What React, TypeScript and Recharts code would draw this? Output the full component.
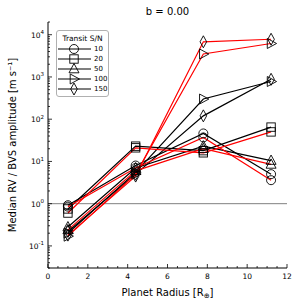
import React from 'react';
import { LineChart, Line, XAxis, YAxis, ReferenceLine, Legend } from 'recharts';

// planet radii (x positions)
const radius = [1.0, 4.4, 7.8, 11.2];
const snLabels = ['10', '20', '50', '100', '150'];
const markerKinds = ['circle', 'square', 'triangle', 'right', 'diamond'];

// black curves
const black10 = [0.92, 8, 46, 5.0];
const black20 = [0.75, 23, 18, 65];
const black50 = [0.28, 7, 23, 10.5];
const black100 = [0.2, 5.5, 300, 780];
const black150 = [0.22, 5, 120, 880];
// red curves
const red10 = [0.85, 7, 37, 3.6];
const red20 = [0.6, 21, 16, 50];
const red50 = [0.24, 6, 20, 8.5];
const red100 = [0.17, 5, 3500, 6200];
const red150 = [0.18, 4.5, 6800, 7800];

const blackSeries = [black10, black20, black50, black100, black150];
const redSeries = [red10, red20, red50, red100, red150];

const xTicks = [0, 2, 4, 6, 8, 10, 12];
const xMinor = [0.5, 1, 1.5, 2.5, 3, 3.5, 4.5, 5, 5.5, 6.5, 7, 7.5, 8.5, 9, 9.5, 10.5, 11, 11.5];
const yMajor = [0.1, 1, 10, 100, 1000, 10000];

const yAllTicks: number[] = [];
[0.01, 0.1, 1, 10, 100, 1000, 10000].forEach((d) => {
  for (let k = 1; k <= 9; k++) {
    const v = d * k;
    if (v >= 0.03 && v <= 20000) yAllTicks.push(v);
  }
});
const xAllTicks = [...xTicks, ...xMinor].sort((a, b) => a - b);

const rows = radius.map((r, i) => {
  const row: Record<string, number> = { r };
  snLabels.forEach((s, j) => {
    row['k' + s] = blackSeries[j][i];
    row['r' + s] = redSeries[j][i];
  });
  return row;
});

const FONT = 'DejaVu Sans, sans-serif';

const Marker = ({ kind, cx, cy }: { kind: string; cx: number; cy: number }) => {
  const p = { fill: 'none', stroke: '#000', strokeWidth: 0.9 };
  if (kind === 'circle') return <circle cx={cx} cy={cy} r={4.5} {...p} />;
  if (kind === 'square') return <rect x={cx - 4.2} y={cy - 4.2} width={8.4} height={8.4} {...p} />;
  if (kind === 'triangle')
    return <polygon points={`${cx},${cy - 5.5} ${cx - 5},${cy + 3.8} ${cx + 5},${cy + 3.8}`} {...p} />;
  if (kind === 'right')
    return <polygon points={`${cx + 5.5},${cy} ${cx - 3.8},${cy - 5} ${cx - 3.8},${cy + 5}`} {...p} />;
  return <polygon points={`${cx},${cy - 6} ${cx + 3.3},${cy} ${cx},${cy + 6} ${cx - 3.3},${cy}`} {...p} />;
};

const makeDot = (kind: string) => (props: any) => {
  const { cx, cy, index } = props;
  if (cx == null || cy == null) return <g key={index} />;
  return <Marker key={index} kind={kind} cx={cx} cy={cy} />;
};

const isMajorY = (v: number) => yMajor.some((m) => Math.abs(m - v) / m < 1e-6);

const LeftTick = (props: any) => {
  const { x, y, payload } = props;
  const v = payload.value;
  const major = isMajorY(v);
  const exp = Math.round(Math.log10(v));
  return (
    <g>
      <line x1={x} x2={x + (major ? 4 : 2)} y1={y} y2={y} stroke="#000" strokeWidth={0.8} />
      {major && (
        <text x={x - 4} y={y + 3} textAnchor="end" fontSize={7.5} fontFamily={FONT} fill="#000">
          10
          <tspan dy={-3.5} fontSize={5.5}>{exp}</tspan>
        </text>
      )}
    </g>
  );
};

const RightTick = (props: any) => {
  const { x, y, payload } = props;
  const major = isMajorY(payload.value);
  return <line x1={x} x2={x - (major ? 4 : 2)} y1={y} y2={y} stroke="#000" strokeWidth={0.8} />;
};

const BottomTick = (props: any) => {
  const { x, y, payload } = props;
  const major = xTicks.includes(payload.value);
  return (
    <g>
      <line x1={x} x2={x} y1={y} y2={y - (major ? 4 : 2)} stroke="#000" strokeWidth={0.8} />
      {major && (
        <text x={x} y={y + 11} textAnchor="middle" fontSize={7.5} fontFamily={FONT} fill="#000">
          {payload.value}
        </text>
      )}
    </g>
  );
};

const TopTick = (props: any) => {
  const { x, y, payload } = props;
  const major = xTicks.includes(payload.value);
  return <line x1={x} x2={x} y1={y} y2={y + (major ? 4 : 2)} stroke="#000" strokeWidth={0.8} />;
};

const XLabel = (props: any) => {
  const vb = props.viewBox || {};
  return (
    <text
      x={vb.x + vb.width / 2}
      y={vb.y + vb.height - 12}
      textAnchor="middle"
      fontSize={10}
      fontFamily={FONT}
      fill="#000"
    >
      Planet Radius [R
      <tspan fontSize={7} dy={2}>{'\u2295'}</tspan>
      <tspan dy={-2}>]</tspan>
    </text>
  );
};

const LegendBox = () => (
  <div
    style={{
      border: '1px solid #b0b0b0',
      borderRadius: 3,
      background: '#fff',
      fontFamily: FONT,
      fontSize: 7,
      color: '#000',
      padding: '3px 0 2px 0',
      width: 53,
      boxSizing: 'border-box',
    }}
  >
    <div style={{ textAlign: 'center', lineHeight: '9px', marginBottom: 1, fontSize: 7.5 }}>Transit S/N</div>
    {snLabels.map((s, j) => (
      <div key={s} style={{ display: 'flex', alignItems: 'center', height: 10 }}>
        <svg width={35} height={10} style={{ display: 'block', overflow: 'visible' }}>
          <line x1={1} x2={34} y1={5} y2={5} stroke="#000" strokeWidth={1.1} />
          <Marker kind={markerKinds[j]} cx={17} cy={5} />
        </svg>
        <span style={{ marginLeft: 2 }}>{s}</span>
      </div>
    ))}
  </div>
);

export default function App() {
  return (
    <div style={{ position: 'fixed', left: 0, top: 0, width: 299, height: 308, background: '#fff' }}>
      <div
        style={{
          position: 'absolute',
          left: 48,
          width: 239,
          top: 6,
          textAlign: 'center',
          fontFamily: FONT,
          fontSize: 10,
          lineHeight: '12px',
          color: '#000',
        }}
      >
        b = 0.00
      </div>
      <LineChart width={299} height={308} data={rows} margin={{ top: 22, right: 12, bottom: 0, left: 8 }}>
        <XAxis
          dataKey="r"
          type="number"
          domain={[0, 12]}
          ticks={xAllTicks}
          interval={0}
          tickSize={0}
          tickMargin={0}
          tickLine={false}
          tick={<BottomTick />}
          axisLine={{ stroke: '#000', strokeWidth: 1 }}
          height={40}
          label={<XLabel />}
        />
        <XAxis
          xAxisId="top"
          orientation="top"
          type="number"
          domain={[0, 12]}
          ticks={xAllTicks}
          interval={0}
          tickSize={0}
          tickMargin={0}
          tickLine={false}
          tick={<TopTick />}
          axisLine={{ stroke: '#000', strokeWidth: 1 }}
          height={0}
        />
        <YAxis
          type="number"
          scale="log"
          domain={[0.03, 20000]}
          allowDataOverflow
          ticks={yAllTicks}
          interval={0}
          tickSize={0}
          tickMargin={0}
          tickLine={false}
          tick={<LeftTick />}
          axisLine={{ stroke: '#000', strokeWidth: 1 }}
          width={40}
          label={{
            value: 'Median RV / BVS amplitude [m s\u207B\u00B9]',
            angle: -90,
            position: 'insideLeft',
            offset: 0,
            dx: 4,
            fontSize: 10,
            fontFamily: FONT,
            fill: '#000',
            style: { textAnchor: 'middle' },
          }}
        />
        <YAxis
          yAxisId="right"
          orientation="right"
          type="number"
          scale="log"
          domain={[0.03, 20000]}
          allowDataOverflow
          ticks={yAllTicks}
          interval={0}
          tickSize={0}
          tickMargin={0}
          tickLine={false}
          tick={<RightTick />}
          axisLine={{ stroke: '#000', strokeWidth: 1 }}
          width={0}
        />
        <ReferenceLine y={1} stroke="#808080" strokeWidth={1} />
        {snLabels.map((s, j) => (
          <Line
            key={'k' + s}
            dataKey={'k' + s}
            stroke="#000"
            strokeWidth={1.2}
            dot={makeDot(markerKinds[j])}
            activeDot={false}
            isAnimationActive={false}
          />
        ))}
        {snLabels.map((s, j) => (
          <Line
            key={'r' + s}
            dataKey={'r' + s}
            stroke="#ff0000"
            strokeWidth={1.2}
            dot={makeDot(markerKinds[j])}
            activeDot={false}
            isAnimationActive={false}
          />
        ))}
        <Legend
          layout="horizontal"
          verticalAlign="middle"
          align="center"
          content={() => <LegendBox />}
          wrapperStyle={{ left: 56, top: 30, width: 53 }}
        />
      </LineChart>
    </div>
  );
}
